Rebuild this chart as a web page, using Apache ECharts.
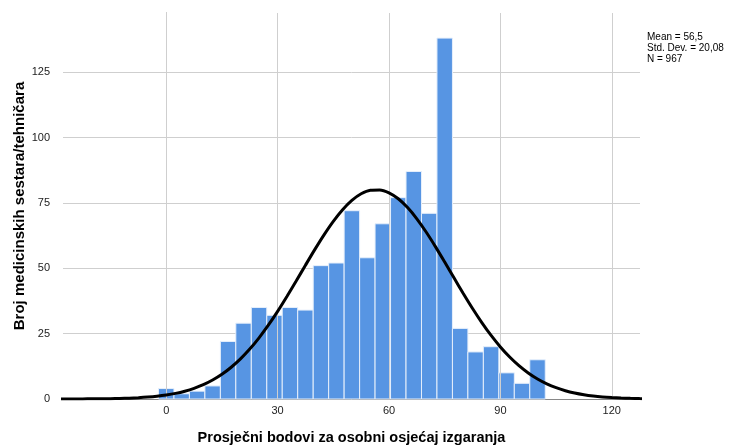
<!DOCTYPE html>
<html>
<head>
<meta charset="utf-8">
<script src="https://cdn.jsdelivr.net/npm/echarts@6/dist/echarts.min.js"></script>
<style>html,body{margin:0;padding:0;background:#fff}#c{width:732px;height:446px}</style>
</head>
<body>
<div id="c"></div>
<script>
// Histogram bin centres (score) and counts
const binCenters = [0, 4.17, 8.33, 12.5, 16.67, 20.83, 25, 29.17, 33.33, 37.5, 41.67, 45.83, 50, 54.17, 58.33, 62.5, 66.67, 70.83, 75, 79.17, 83.33, 87.5, 91.67, 95.83, 100];
const counts = [4, 2, 3, 5, 22, 29, 35, 32, 35, 34, 51, 52, 72, 54, 67, 77, 87, 71, 138, 27, 18, 20, 10, 6, 15];
const binWidth = 4.17;
// Fitted normal curve (every 2.5 points)
const curveX = [-30, -27.5, -25, -22.5, -20, -17.5, -15, -12.5, -10, -7.5, -5, -2.5, 0, 2.5, 5, 7.5, 10, 12.5, 15, 17.5, 20, 22.5, 25, 27.5, 30, 32.5, 35, 37.5, 40, 42.5, 45, 47.5, 50, 52.5, 55, 57.5, 60, 62.5, 65, 67.5, 70, 72.5, 75, 77.5, 80, 82.5, 85, 87.5, 90, 92.5, 95, 97.5, 100, 102.5, 105, 107.5, 110, 112.5, 115, 117.5, 120, 122.5, 125, 127.5, 130];
const curveY = [0.01, 0.01, 0.02, 0.04, 0.06, 0.09, 0.14, 0.22, 0.33, 0.5, 0.74, 1.07, 1.53, 2.15, 2.99, 4.08, 5.48, 7.26, 9.45, 12.14, 15.34, 19.09, 23.39, 28.21, 33.5, 39.19, 45.11, 51.16, 57.12, 62.78, 67.94, 72.4, 75.96, 78.48, 79.83, 79.95, 78.84, 76.56, 73.19, 68.9, 63.86, 58.28, 52.36, 46.33, 40.36, 34.62, 29.24, 24.31, 19.91, 16.05, 12.74, 9.96, 7.66, 5.81, 4.33, 3.18, 2.3, 1.64, 1.15, 0.79, 0.54, 0.36, 0.24, 0.15, 0.1];
const xTicks = [0, 30, 60, 90, 120];
const statsLines = ['Mean = 56,5', 'Std. Dev. = 20,08', 'N = 967'];
const xTitle = 'Prosječni bodovi za osobni osjećaj izgaranja';
const yTitle = 'Broj medicinskih sestara/tehničara';

const chart = echarts.init(document.getElementById('c'), null, {renderer: 'canvas'});
const font = '"Liberation Sans", Arial, sans-serif';
chart.setOption({
  animation: false,
  backgroundColor: '#ffffff',
  grid: {left: 63, right: 92, top: 13, bottom: 47, containLabel: false, outerBoundsMode: 'none'},
  xAxis: {
    type: 'value', min: -27.8, max: 127.6,
    name: xTitle, nameLocation: 'middle', nameGap: 31, nameMoveOverlap: false,
    nameTextStyle: {fontFamily: font, fontWeight: 'bold', fontSize: 14.5, color: '#000'},
    axisLine: {show: true, onZero: false, lineStyle: {color: '#888', width: 1}},
    axisTick: {show: false},
    splitLine: {show: false},
    axisLabel: {customValues: xTicks, fontFamily: font, fontSize: 11, color: '#222', margin: 6}
  },
  yAxis: {
    type: 'value', min: 0, max: 147.6, interval: 25,
    name: yTitle, nameLocation: 'middle', nameGap: 36, nameMoveOverlap: false,
    nameTextStyle: {fontFamily: font, fontWeight: 'bold', fontSize: 15, color: '#000'},
    axisLine: {show: true, lineStyle: {color: '#888', width: 1}},
    axisTick: {show: false},
    splitLine: {show: true, showMaxLine: false, lineStyle: {color: '#cfcfcf', width: 1}},
    axisLabel: {showMaxLabel: false, fontFamily: font, fontSize: 11, color: '#222', margin: 13}
  },
  graphic: [{
    type: 'text', left: 647, top: 32,
    style: {text: statsLines.join('\n'), fontFamily: font, fontSize: 10, lineHeight: 11, fill: '#000'}
  }],
  series: [
    {
      type: 'line', data: [], silent: true,
      markLine: {
        silent: true, symbol: 'none', label: {show: false},
        lineStyle: {color: '#cfcfcf', width: 1, type: 'solid'},
        data: xTicks.map(v => ({xAxis: v}))
      }
    },
    {
      type: 'custom',
      data: binCenters.map((c, i) => [c, counts[i]]),
      renderItem: function (params, api) {
        const c = api.value(0), v = api.value(1);
        const p0 = api.coord([c - binWidth / 2, v]);
        const p1 = api.coord([c + binWidth / 2, 0]);
        return {
          type: 'rect',
          shape: {x: p0[0], y: p0[1], width: p1[0] - p0[0], height: p1[1] - p0[1]},
          style: {fill: '#5795e3', stroke: '#e6effb', lineWidth: 1}
        };
      },
      encode: {x: 0, y: 1},
      z: 3
    },
    {
      type: 'line', smooth: 0.3, symbol: 'none',
      data: curveX.map((x, i) => [x, curveY[i]]),
      lineStyle: {color: '#000', width: 3},
      z: 5
    }
  ]
});
</script>
</body>
</html>
